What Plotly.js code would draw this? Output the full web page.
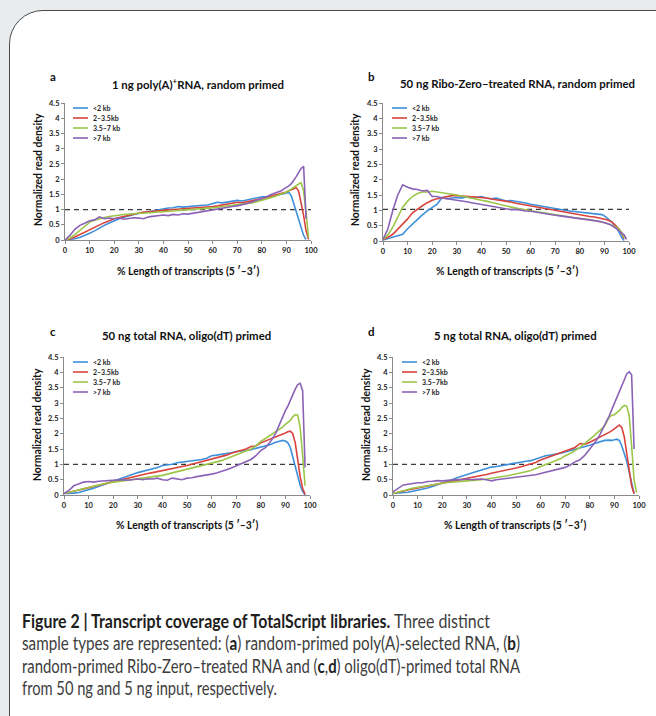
<!DOCTYPE html>
<html>
<head>
<meta charset="utf-8">
<script src="https://cdn.plot.ly/plotly-3.0.1.min.js"></script>
<style>
  html, body { margin:0; padding:0; width:656px; height:716px; overflow:hidden; background:#e9ecef; }
  #frame { position:absolute; left:9px; top:10px; width:690px; height:740px; box-sizing:border-box;
           border:1.4px solid #4a4a4a; border-radius:34px; background:#ffffff; }
  #chart { position:absolute; left:0; top:0; width:656px; height:716px; }
  #cap { position:absolute; left:22px; top:610px; font-family:'Lato','Open Sans',sans-serif; font-size:18.5px;
         line-height:22.4px; color:#3d3d3d; white-space:nowrap; }
  #cap b { color:#1e1e1e; font-weight:bold; }
  #cap span { display:inline-block; transform-origin:0 50%; }
</style>
</head>
<body>
<div id="frame"></div>
<div id="chart"></div>
<div id="cap"><span id="l1"><b>Figure 2 | Transcript coverage of TotalScript libraries.</b> Three distinct</span><br><span id="l2">sample types are represented: (<b>a</b>) random-primed poly(A)-selected RNA, (<b>b</b>)</span><br><span id="l3">random-primed Ribo-Zero–treated RNA and (<b>c</b>,<b>d</b>) oligo(dT)-primed total RNA</span><br><span id="l4">from 50 ng and 5 ng input, respectively.</span></div>
<script>
// ---------- data ----------
const pctLength = [0,2,4,6,8,10,12,14,16,18,20,22,24,26,28,30,32,34,36,38,40,42,44,46,48,50,52,54,56,58,60,62,64,66,68,70,72,74,76,78,80,82,84,86,88,89,90,91,92,93,94,95,96,97,98,99];
const seriesNames = ['<2 kb', '2–3.5kb', '3.5–7 kb', '>7 kb'];
const seriesNamesD = ['<2 kb', '2–3.5kb', '3.5–7kb', '>7 kb'];
const panelLetters = ['a', 'b', 'c', 'd'];
const panelTitles = ['1 ng poly(A)<sup>+</sup>RNA, random primed', '50 ng Ribo-Zero–treated RNA, random primed', '50 ng total RNA, oligo(dT) primed', '5 ng total RNA, oligo(dT) primed'];
const refX = [0, 100];
const refLevel = [1, 1.03, 1, 1];

// panel a: 1 ng poly(A)+ RNA, random primed
const a_lt2 =   [0,0.01,0.04,0.08,0.14,0.22,0.3,0.4,0.48,0.56,0.64,0.7,0.75,0.8,0.84,0.87,0.9,0.93,0.96,0.99,1.03,1.05,1.06,1.1,1.08,1.1,1.11,1.12,1.14,1.15,1.2,1.24,1.22,1.25,1.28,1.3,1.28,1.32,1.34,1.38,1.42,1.42,1.44,1.46,1.5,1.52,1.55,1.56,1.45,1.2,0.95,0.65,0.38,0.15,0.02,null];
const a_2to35 = [0,0.03,0.1,0.18,0.27,0.35,0.43,0.5,0.57,0.63,0.7,0.74,0.78,0.82,0.86,0.9,0.92,0.93,0.95,0.97,0.98,0.99,1.0,1.01,1.02,1.03,1.04,1.06,1.07,1.08,1.1,1.12,1.15,1.17,1.2,1.24,1.22,1.25,1.28,1.32,1.36,1.4,1.44,1.48,1.52,1.55,1.58,1.62,1.66,1.7,1.72,1.6,1.25,0.8,0.3,0.02];
const a_35to7 = [0,0.06,0.18,0.32,0.45,0.58,0.65,0.7,0.74,0.77,0.8,0.83,0.84,0.85,0.87,0.88,0.88,0.9,0.91,0.92,0.93,0.95,0.96,0.97,0.98,1.0,1.01,1.02,1.03,1.04,1.05,1.07,1.1,1.12,1.14,1.15,1.17,1.2,1.22,1.26,1.3,1.35,1.4,1.45,1.5,1.53,1.57,1.62,1.68,1.73,1.78,1.84,1.88,1.6,0.9,0.08];
const a_gt7 =   [0,0.15,0.35,0.48,0.55,0.63,0.66,0.76,0.7,0.72,0.7,0.72,0.68,0.7,0.73,0.72,0.7,0.76,0.78,0.8,0.82,0.8,0.84,0.82,0.86,0.85,0.88,0.9,0.92,0.95,0.98,1.02,1.05,1.08,1.1,1.12,1.15,1.2,1.25,1.3,1.36,1.42,1.5,1.55,1.62,1.68,1.72,1.78,1.85,1.95,2.08,2.22,2.35,2.42,0.7,null];

// panel b: 50 ng Ribo-Zero-treated RNA, random primed
const b_lt2 =   [0.03,0.08,0.12,0.16,0.22,0.4,0.55,0.72,0.85,0.98,1.1,1.2,1.42,1.38,1.4,1.42,1.4,1.44,1.4,1.42,1.45,1.4,1.38,1.4,1.35,1.3,1.32,1.3,1.27,1.24,1.2,1.17,1.14,1.1,1.07,1.05,1.02,1.0,0.98,0.96,0.95,0.93,0.9,0.88,0.88,0.86,0.82,0.76,0.7,0.62,0.52,0.42,0.28,0.12,0.02,null];
const b_2to35 = [0.05,0.12,0.22,0.38,0.55,0.72,0.92,1.05,1.15,1.25,1.33,1.38,1.42,1.45,1.48,1.48,1.47,1.46,1.45,1.43,1.42,1.4,1.37,1.35,1.32,1.3,1.27,1.23,1.2,1.17,1.14,1.11,1.08,1.05,1.02,1.0,0.97,0.94,0.91,0.88,0.86,0.83,0.8,0.78,0.75,0.73,0.71,0.69,0.66,0.62,0.55,0.48,0.38,0.25,0.08,null];
const b_35to7 = [0.05,0.2,0.45,0.8,1.1,1.3,1.45,1.55,1.6,1.6,1.62,1.6,1.58,1.56,1.53,1.5,1.47,1.43,1.4,1.37,1.33,1.3,1.25,1.22,1.18,1.14,1.1,1.07,1.04,1.02,1.0,0.97,0.94,0.91,0.88,0.86,0.83,0.8,0.78,0.76,0.75,0.72,0.7,0.67,0.64,0.62,0.6,0.58,0.55,0.52,0.48,0.44,0.38,0.28,0.1,null];
const b_gt7 =   [0.05,0.4,1.0,1.5,1.83,1.75,1.7,1.68,1.63,1.65,1.45,1.45,1.4,1.38,1.35,1.33,1.32,1.28,1.25,1.22,1.2,1.15,1.12,1.1,1.07,1.04,1.02,1.03,1.0,0.98,0.97,0.94,0.92,0.89,0.86,0.84,0.82,0.8,0.78,0.76,0.74,0.72,0.7,0.67,0.64,0.62,0.6,0.58,0.55,0.5,0.46,0.4,0.32,0.25,0.2,0.05];

// panel c: 50 ng total RNA, oligo(dT) primed
const c_lt2 =   [0.05,0.05,0.06,0.08,0.12,0.17,0.22,0.28,0.34,0.4,0.46,0.52,0.58,0.63,0.68,0.73,0.77,0.81,0.85,0.9,0.96,0.98,1.0,1.05,1.07,1.08,1.1,1.14,1.16,1.2,1.28,1.3,1.32,1.34,1.38,1.42,1.43,1.45,1.48,1.52,1.55,1.6,1.65,1.72,1.77,1.78,1.76,1.7,1.55,1.25,0.9,0.6,0.32,0.12,0.01,null];
const c_2to35 = [0.05,0.08,0.12,0.16,0.2,0.24,0.28,0.32,0.36,0.4,0.44,0.48,0.52,0.56,0.6,0.63,0.66,0.7,0.73,0.76,0.8,0.83,0.86,0.88,0.92,0.96,1.0,1.04,1.08,1.12,1.17,1.22,1.26,1.3,1.36,1.4,1.44,1.5,1.58,1.6,1.7,1.76,1.82,1.88,1.95,1.98,2.02,2.06,2.08,2.0,1.7,1.15,0.6,0.22,0.02,null];
const c_35to7 = [0.05,0.09,0.13,0.18,0.22,0.26,0.3,0.33,0.37,0.4,0.42,0.44,0.46,0.48,0.5,0.52,0.54,0.56,0.58,0.61,0.64,0.68,0.72,0.76,0.8,0.84,0.88,0.92,0.96,1.0,1.03,1.07,1.12,1.18,1.24,1.3,1.36,1.43,1.5,1.6,1.75,1.85,1.95,2.05,2.15,2.22,2.3,2.38,2.43,2.55,2.62,2.6,2.2,1.3,0.3,null];
const c_gt7 =   [0.05,0.15,0.3,0.35,0.42,0.44,0.42,0.45,0.46,0.47,0.48,0.47,0.5,0.48,0.5,0.52,0.5,0.53,0.52,0.55,0.5,0.48,0.55,0.52,0.5,0.55,0.56,0.6,0.62,0.65,0.68,0.72,0.76,0.82,0.88,0.95,1.0,1.08,1.16,1.28,1.45,1.55,1.75,2.0,2.4,2.55,2.75,2.9,3.1,3.3,3.45,3.6,3.64,3.4,0.9,null];

// panel d: 5 ng total RNA, oligo(dT) primed
const d_lt2 =   [0.05,0.06,0.07,0.09,0.12,0.15,0.19,0.23,0.28,0.33,0.38,0.44,0.5,0.56,0.62,0.67,0.72,0.77,0.82,0.87,0.91,0.93,0.96,0.98,1.02,1.06,1.08,1.1,1.12,1.18,1.22,1.28,1.3,1.32,1.36,1.4,1.44,1.48,1.52,1.58,1.62,1.68,1.72,1.78,1.79,1.78,1.8,1.82,1.78,1.6,1.35,1.1,0.75,0.35,0.05,null];
const d_2to35 = [0.05,0.08,0.12,0.16,0.2,0.23,0.26,0.3,0.33,0.36,0.39,0.42,0.45,0.48,0.5,0.53,0.56,0.6,0.63,0.67,0.71,0.74,0.77,0.8,0.84,0.88,0.92,0.96,1.0,1.06,1.14,1.2,1.26,1.32,1.38,1.45,1.5,1.55,1.68,1.65,1.72,1.8,1.88,1.95,2.05,2.1,2.15,2.22,2.28,2.2,1.9,1.35,0.75,0.3,0.04,null];
const d_35to7 = [0.05,0.1,0.14,0.18,0.22,0.25,0.28,0.31,0.34,0.37,0.4,0.41,0.42,0.43,0.44,0.45,0.46,0.48,0.5,0.52,0.54,0.56,0.6,0.62,0.65,0.68,0.72,0.76,0.8,0.86,0.92,0.98,1.05,1.1,1.18,1.28,1.35,1.45,1.55,1.68,1.8,1.95,2.1,2.25,2.55,2.6,2.62,2.68,2.75,2.85,2.92,2.9,2.6,1.6,0.5,0.08];
const d_gt7 =   [0.1,0.22,0.32,0.35,0.38,0.4,0.4,0.44,0.45,0.47,0.46,0.48,0.5,0.5,0.5,0.52,0.5,0.52,0.52,0.5,0.46,0.5,0.52,0.54,0.55,0.56,0.58,0.6,0.62,0.66,0.7,0.74,0.78,0.82,0.86,0.9,0.98,1.08,1.15,1.3,1.5,1.7,1.95,2.25,2.6,2.8,2.98,3.15,3.35,3.55,3.75,3.95,4.02,3.92,1.5,null];

const panelSeries = [
  [a_lt2, a_2to35, a_35to7, a_gt7],
  [b_lt2, b_2to35, b_35to7, b_gt7],
  [c_lt2, c_2to35, c_35to7, c_gt7],
  [d_lt2, d_2to35, d_35to7, d_gt7]
];
const seriesColors = ['#3d8fdb', '#d9433d', '#9cc64a', '#8a62b6'];

// ---------- layout helpers (pixel -> paper) ----------
const W = 656, H = 716;
const px = v => v / W;
const py = v => 1 - v / H;

// plot boxes in pixels [x0, x1, yBottom, yTop]
const boxes = [[65, 311, 240, 103], [383, 629, 241, 103], [64, 310, 495, 357], [393, 639, 495, 357]];
const letterPos = [[53, 76], [372, 76], [53, 331], [372, 331]];
const titlePos = [[198, 83], [517, 83], [187, 336], [515, 336]];
const yTitlePos = [[38, 170], [355, 170], [37, 425], [366, 425]];
const xTitlePos = [[188, 271], [507, 271], [187, 525], [515, 525]];
const legendPos = [[73, 108], [392, 108], [73, 362], [402, 362]];

const FAM = 'Lato, Liberation Sans, sans-serif';
const tickFont = { family: FAM, size: 7.5, color: '#222', weight: 'bold' };
const titleFont = { family: FAM, size: 11.4, color: '#111', weight: 'bold' };
const yLabelFont = { family: FAM, size: 10.4, color: '#111', weight: 'bold' };
const xLabelFont = { family: FAM, size: 10.4, color: '#111', weight: 'bold' };

const traces = [];
const layout = {
  width: W, height: H, margin: { l: 0, r: 0, t: 0, b: 0 },
  paper_bgcolor: 'rgba(0,0,0,0)', plot_bgcolor: 'rgba(0,0,0,0)',
  showlegend: false, annotations: [], shapes: []
};

for (let p = 0; p < 4; p++) {
  const sfx = p === 0 ? '' : String(p + 1);
  const xa = 'x' + sfx, ya = 'y' + sfx;
  const b = boxes[p];
  layout['xaxis' + sfx] = {
    domain: [px(b[0]), px(b[1])], anchor: ya, range: [0, 100], tick0: 0, dtick: 10,
    showgrid: false, zeroline: false, showline: true, linecolor: '#8a8a8a', linewidth: 1,
    ticks: 'outside', ticklen: 3, tickcolor: '#8a8a8a', tickfont: tickFont, fixedrange: true
  };
  layout['yaxis' + sfx] = {
    domain: [py(b[2]), py(b[3])], anchor: xa, range: [0, 4.5], tick0: 0, dtick: 0.5,
    showgrid: false, zeroline: false, showline: true, linecolor: '#8a8a8a', linewidth: 1,
    ticks: 'outside', ticklen: 3, tickcolor: '#8a8a8a', tickfont: tickFont, fixedrange: true
  };
  // reference dashed line
  traces.push({ x: refX, y: [refLevel[p], refLevel[p]], xaxis: xa, yaxis: ya, mode: 'lines',
    line: { color: '#3a3a3a', width: 1.2, dash: '5px,4px' }, hoverinfo: 'skip' });
  const names = p === 3 ? seriesNamesD : seriesNames;
  panelSeries[p].forEach((vals, i) => {
    traces.push({ x: pctLength, y: vals, xaxis: xa, yaxis: ya, mode: 'lines', name: names[i],
      line: { color: seriesColors[i], width: 1.6 }, connectgaps: false });
    // legend sample + label
    const lx = legendPos[p][0], ly = legendPos[p][1] + i * 10;
    layout.shapes.push({ type: 'line', xref: 'paper', yref: 'paper', x0: px(lx), x1: px(lx + 15), y0: py(ly), y1: py(ly),
      line: { color: seriesColors[i], width: 1.6 } });
    layout.annotations.push({ xref: 'paper', yref: 'paper', x: px(lx + 18), y: py(ly), xanchor: 'left', yanchor: 'middle',
      text: names[i], showarrow: false, font: { family: FAM, size: 7, color: '#222', weight: 'bold' } });
  });
  layout.annotations.push({ xref: 'paper', yref: 'paper', x: px(letterPos[p][0]), y: py(letterPos[p][1]), xanchor: 'center', yanchor: 'middle',
    text: panelLetters[p], showarrow: false, font: { family: FAM, size: 11.5, color: '#111', weight: 'bold' } });
  layout.annotations.push({ xref: 'paper', yref: 'paper', x: px(titlePos[p][0]), y: py(titlePos[p][1]), xanchor: 'center', yanchor: 'middle',
    text: panelTitles[p], showarrow: false, font: titleFont });
  layout.annotations.push({ xref: 'paper', yref: 'paper', x: px(yTitlePos[p][0]), y: py(yTitlePos[p][1]), xanchor: 'center', yanchor: 'middle',
    text: 'Normalized read density', textangle: -90, showarrow: false, font: yLabelFont });
  layout.annotations.push({ xref: 'paper', yref: 'paper', x: px(xTitlePos[p][0]), y: py(xTitlePos[p][1]), xanchor: 'center', yanchor: 'middle',
    text: '% Length of transcripts (5 ′–3′)', showarrow: false, font: xLabelFont });
}

Plotly.newPlot('chart', traces, layout, { displayModeBar: false, staticPlot: true });

// fit each caption line to the width measured on the reference
function fitCaption() {
  const targets = { l1: 468, l2: 498, l3: 498, l4: 255 };
  Object.keys(targets).forEach(id => {
    const el = document.getElementById(id);
    el.style.transform = 'none';
    const w = el.getBoundingClientRect().width;
    if (w > 0) el.style.transform = 'scaleX(' + (targets[id] / w).toFixed(4) + ')';
  });
}
fitCaption();
if (document.fonts && document.fonts.ready) document.fonts.ready.then(fitCaption);
</script>
</body>
</html>
